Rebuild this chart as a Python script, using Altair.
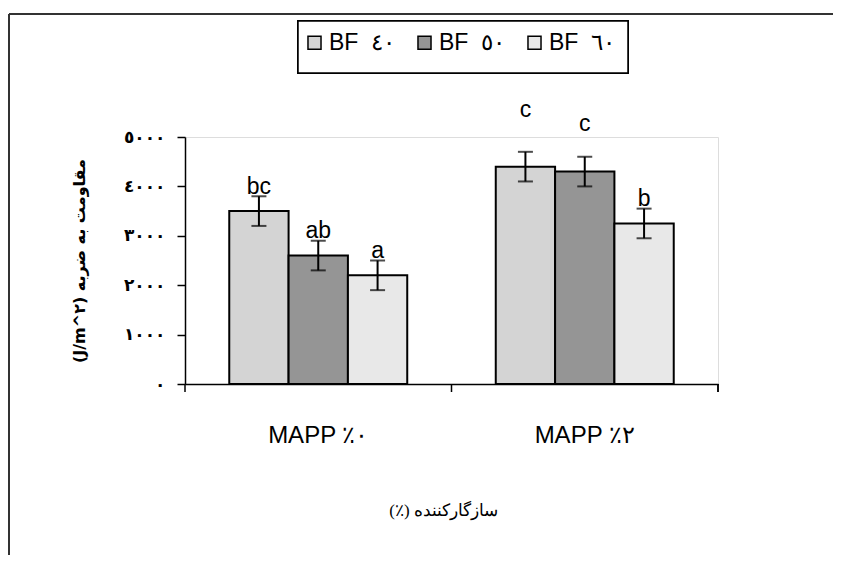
import altair as alt
import pandas as pd

groups = ["MAPP ٪٠", "MAPP ٪٢"]
series = ["BF\u00a0\u00a0٤٠", "BF\u00a0\u00a0٥٠", "BF\u00a0\u00a0٦٠"]
values_g1 = [3500, 2600, 2200]
values_g2 = [4400, 4300, 3250]
errors_g1 = [300, 300, 300]
errors_g2 = [300, 300, 300]
letters_g1 = ["bc", "ab", "a"]
letters_g2 = ["c", "c", "b"]
letter_y_g1 = [3850, 2950, 2550]
letter_y_g2 = [5400, 5130, 3600]
y_ticks = [0, 1000, 2000, 3000, 4000, 5000]
colors = ["#d4d4d4", "#959595", "#e8e8e8"]

rows = []
for g, vals, errs, lets, ly in [
    (groups[0], values_g1, errors_g1, letters_g1, letter_y_g1),
    (groups[1], values_g2, errors_g2, letters_g2, letter_y_g2),
]:
    for s, v, e, l, y in zip(series, vals, errs, lets, ly):
        rows.append({"group": g, "series": s, "value": v, "lo": v - e, "hi": v + e,
                     "letter": l, "ly": y})
df = pd.DataFrame(rows)

W, H = 533, 247

x_enc = alt.X("group:N", sort=groups,
              scale=alt.Scale(paddingInner=0, paddingOuter=0),
              axis=alt.Axis(title="(٪) سازگارکننده", labelAngle=0, ticks=False,
                            labelFont="Liberation Sans", labelFontSize=24,
                            labelColor="black", labelPadding=39,
                            titleFont="Liberation Serif", titleFontSize=17,
                            titleFontWeight="normal", titleColor="black",
                            titleX=258, titleAlign="center",
                            titlePadding=55, domainColor="black", domainWidth=1.5))
xo = alt.XOffset("series:N", sort=series,
                 scale=alt.Scale(paddingInner=0, paddingOuter=0.746))

label_expr = ("datum.value == 0 ? '٠' : datum.value == 1000 ? '١٠٠٠' : "
              "datum.value == 2000 ? '٢٠٠٠' : datum.value == 3000 ? '٣٠٠٠' : "
              "datum.value == 4000 ? '٤٠٠٠' : '٥٠٠٠'")

y_enc = alt.Y("value:Q", scale=alt.Scale(domain=[0, 5000], nice=False),
              axis=alt.Axis(title="(J/m^٢) مقاومت به ضربه", values=y_ticks,
                            labelExpr=label_expr, grid=False,
                            labelFont="DejaVu Sans", labelFontSize=17,
                            labelFontWeight="bold", labelColor="black",
                            labelPadding=12, tickSize=8, tickColor="black",
                            tickWidth=1.5, domainColor="black", domainWidth=1.5,
                            titleFont="DejaVu Sans", titleFontSize=16,
                            titleFontWeight="bold", titleColor="black",
                            titlePadding=36))

base = alt.Chart(df)

frame_top = base.mark_rule(color="#333333", strokeWidth=2).encode(
    x=alt.value(-176), x2=alt.value(700), y=alt.value(-123))
frame_left = base.mark_rule(color="#333333", strokeWidth=1.5).encode(
    x=alt.value(-176), y=alt.value(-123), y2=alt.value(500))

legend_box = base.mark_rect(fill="white", stroke="black", strokeWidth=1.5).encode(
    x=alt.value(113), x2=alt.value(443), y=alt.value(-116), y2=alt.value(-64))

bars = base.mark_bar(stroke="black", strokeWidth=2).encode(
    x=x_enc, xOffset=xo, y=y_enc,
    fill=alt.Fill("series:N", sort=series,
                  scale=alt.Scale(domain=series, range=colors),
                  legend=alt.Legend(title=None, orient="none", direction="horizontal",
                                    legendX=118, legendY=-106, symbolType="square",
                                    symbolSize=170, symbolStrokeColor="black",
                                    symbolStrokeWidth=1.5, labelFont="Liberation Sans",
                                    labelFontSize=23, labelColor="black",
                                    labelOffset=3, columnPadding=17, labelLimit=200)))

err = base.mark_rule(color="black", strokeWidth=2).encode(
    x=alt.X("group:N", sort=groups), xOffset=xo,
    y=alt.Y("lo:Q"), y2="hi:Q")
cap_lo = base.mark_tick(color="black", thickness=2, size=15, orient="horizontal").encode(
    x=alt.X("group:N", sort=groups), xOffset=xo, y="lo:Q")
cap_hi = base.mark_tick(color="black", thickness=2, size=15, orient="horizontal").encode(
    x=alt.X("group:N", sort=groups), xOffset=xo, y="hi:Q")

letters = base.mark_text(font="Liberation Sans", fontSize=23, color="black",
                         baseline="alphabetic", clip=False).encode(
    x=alt.X("group:N", sort=groups), xOffset=xo, y="ly:Q", text="letter:N")

xticks_df = pd.DataFrame({"group": groups})
xticks = alt.Chart(xticks_df).mark_rule(color="black", strokeWidth=1.5).encode(
    x=alt.X("group:N", sort=groups, bandPosition=0),
    y=alt.value(H), y2=alt.value(H + 8))
xtick_end = alt.Chart(xticks_df).mark_rule(color="black", strokeWidth=1.5).encode(
    x=alt.value(W), y=alt.value(H), y2=alt.value(H + 8))

chart = alt.layer(frame_top, frame_left, legend_box, bars, err, cap_lo, cap_hi,
                  letters, xticks, xtick_end).properties(
    width=W, height=H,
    autosize=alt.AutoSizeParams(type="none"),
    padding={"left": 177, "top": 129, "right": 115, "bottom": 171},
).configure_view(stroke="#888888", strokeWidth=2).configure(background="white")

chart.save("out.html", embed_options={"renderer": "svg", "actions": False})
